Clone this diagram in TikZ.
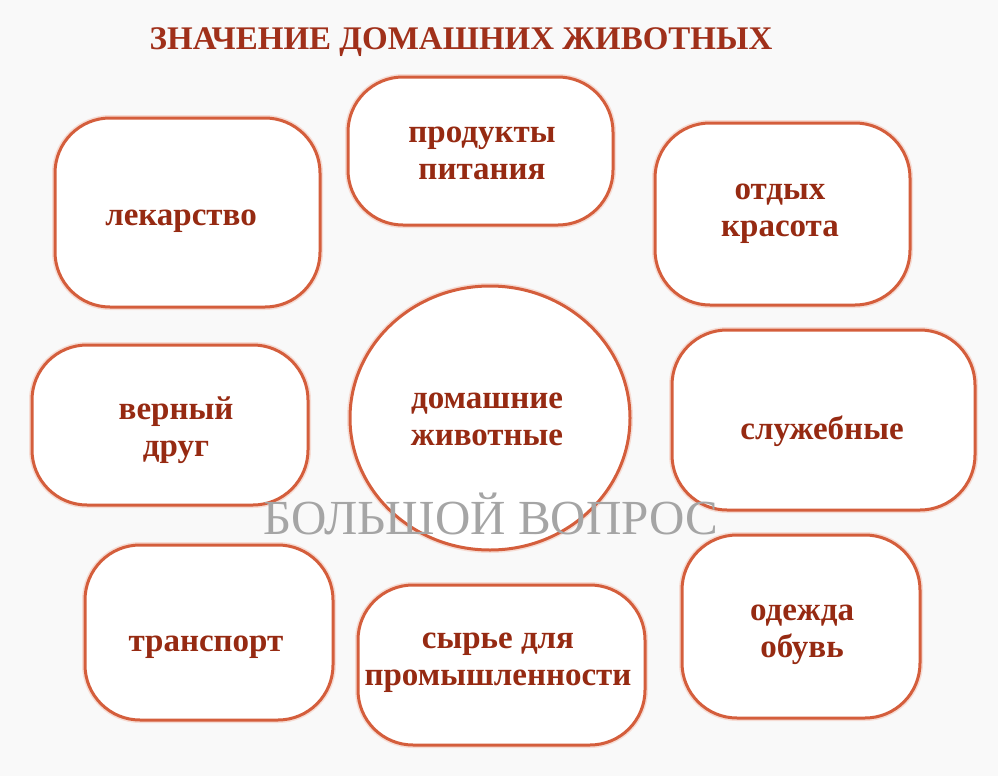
\documentclass[tikz,border=0pt]{standalone}
\usepackage{fontspec}
\setmainfont{Liberation Serif}
\usetikzlibrary{shapes.geometric}
\definecolor{strokec}{HTML}{D45E3C}
\definecolor{txtc}{HTML}{962A12}
\definecolor{titlec}{HTML}{A0301A}
\definecolor{bgc}{HTML}{F9F9F9}
\definecolor{wmc}{HTML}{A5A5A5}
\begin{document}
\begin{tikzpicture}[x=1pt,y=-1pt,
  glow/.style={preaction={draw=strokec!22, line width=6pt}},
  box/.style={draw=strokec, line width=3pt, rounded corners=55pt, fill=white, glow, inner sep=0pt},
  roundbox/.style={ellipse, draw=strokec, line width=3pt, fill=white, glow, inner sep=0pt},
  lbl/.style={align=center, font=\fontsize{33}{37}\selectfont\bfseries, text=txtc, inner sep=0pt},
  titletext/.style={font=\fontsize{33}{36}\selectfont\bfseries, text=titlec, inner sep=0pt},
  watermark/.style={font=\fontsize{49}{50}\selectfont, text=wmc, inner sep=0pt}
]
\fill[bgc] (0,0) rectangle (998,776);
\useasboundingbox (0,0) rectangle (998,776);

\node[titletext] (title) at (461,42) {ЗНАЧЕНИЕ ДОМАШНИХ ЖИВОТНЫХ};

\node[box, minimum width=265pt, minimum height=189pt] (lek) at (187.5,212.5) {};
\node[box, minimum width=265pt, minimum height=148pt] (prod) at (480.5,151) {};
\node[box, minimum width=255pt, minimum height=182pt] (otd) at (782.5,214) {};
\node[box, minimum width=276pt, minimum height=160pt] (drug) at (170,425) {};
\node[roundbox, minimum width=280pt, minimum height=264pt] (dom) at (490,418) {};
\node[box, minimum width=303pt, minimum height=180pt] (sluz) at (823.5,420) {};
\node[box, minimum width=248pt, minimum height=175pt] (trans) at (209,632.5) {};
\node[box, minimum width=287pt, minimum height=160pt] (syr) at (501.5,665) {};
\node[box, minimum width=238pt, minimum height=183pt] (od) at (801,626.5) {};

\node[lbl] (lek-t)   at (181,221)   {лекарство};
\node[lbl] (prod-t)  at (482,153)   {продукты\\питания};
\node[lbl] (otd-t)   at (780,213.5) {отдых\\красота};
\node[lbl] (drug-t)  at (176,430.5) {верный\\друг};
\node[lbl] (dom-t)   at (487,419.5) {домашние\\животные};
\node[lbl] (sluz-t)  at (822,431)   {служебные};
\node[lbl] (trans-t) at (206,647)   {транспорт};
\node[lbl] (syr-t)   at (498,663)   {сырье для\\промышленности};
\node[lbl] (od-t)    at (802,635)   {одежда\\обувь};

\node[watermark] (wm) at (491,514) {БОЛЬШОЙ ВОПРОС};
\end{tikzpicture}
\end{document}
